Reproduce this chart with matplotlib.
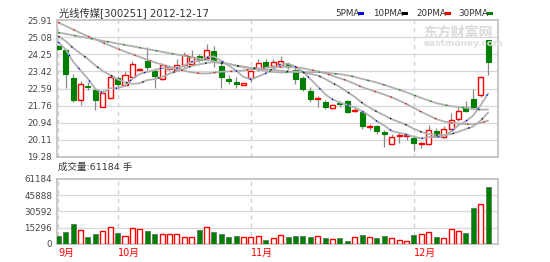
import matplotlib
matplotlib.use("Agg")
import matplotlib.pyplot as plt
from matplotlib.patches import Rectangle

# daily candles, 2012-09-18 .. 2012-12-17
opens = [24.66, 24.47, 23.10, 22.04, 22.72, 22.52, 21.71, 22.12, 23.10, 22.75,
         23.15, 23.50, 23.94, 23.45, 23.05, 23.54, 23.47, 23.72, 23.80, 24.16,
         24.08, 24.43, 23.70, 23.06, 22.90, 22.77, 23.10, 23.52, 23.88, 23.70,
         23.67, 23.77, 23.47, 23.10, 22.49, 22.08, 21.93, 21.63, 21.90, 21.97,
         21.51, 21.47, 20.73, 20.77, 20.47, 19.93, 20.30, 20.28, 20.22, 19.90,
         19.92, 20.52, 20.25, 20.64, 21.11, 21.72, 22.08, 22.26, 24.92]
highs = [24.70, 24.52, 23.31, 22.95, 22.90, 22.61, 22.51, 23.29, 23.20, 23.44,
         23.94, 23.60, 24.60, 23.59, 23.83, 23.73, 24.04, 24.37, 24.48, 24.27,
         24.76, 24.65, 23.88, 23.23, 23.15, 22.88, 23.50, 24.00, 24.00, 24.00,
         24.16, 23.90, 23.63, 23.20, 22.66, 22.22, 22.05, 21.86, 22.00, 22.05,
         21.72, 21.55, 20.90, 20.85, 20.60, 20.40, 20.47, 20.40, 20.35, 20.02,
         20.85, 20.70, 20.80, 21.42, 21.76, 22.00, 22.55, 23.18, 24.95]
lows = [24.48, 22.61, 21.95, 21.78, 22.51, 21.55, 21.68, 22.07, 22.66, 22.71,
        23.05, 23.48, 23.39, 22.61, 23.00, 23.49, 23.45, 23.64, 23.73, 23.88,
        24.03, 23.62, 22.63, 22.82, 22.62, 22.75, 22.90, 23.45, 23.62, 23.65,
        23.60, 23.55, 22.82, 22.49, 21.92, 21.72, 21.62, 21.60, 21.72, 21.40,
        21.45, 20.65, 20.60, 20.37, 19.75, 19.90, 19.96, 20.08, 19.55, 19.72,
        19.85, 20.20, 20.20, 20.58, 21.00, 21.45, 21.65, 22.18, 23.24]
closes = [24.52, 23.30, 22.04, 22.80, 22.66, 22.04, 22.40, 23.13, 22.80, 23.25,
          23.78, 23.56, 23.62, 23.21, 23.73, 23.63, 23.72, 24.23, 24.13, 23.99,
          24.44, 23.98, 23.13, 22.95, 22.82, 22.85, 23.45, 23.82, 23.70, 23.90,
          23.93, 23.64, 23.06, 22.57, 22.08, 22.15, 21.72, 21.82, 21.83, 21.46,
          21.56, 20.77, 20.76, 20.52, 20.39, 20.25, 20.35, 20.36, 19.95, 19.97,
          20.60, 20.30, 20.64, 21.05, 21.52, 21.53, 21.72, 23.13, 23.87]
volumes = [7600, 11400, 18400, 13000, 6700, 8900, 12000, 15500, 9800, 7600,
           14600, 13600, 12000, 8900, 8900, 8900, 8900, 6700, 6000, 13300,
           15500, 11400, 9500, 6000, 7600, 6700, 6700, 7600, 3800, 5700,
           8200, 6700, 7600, 7600, 6700, 7600, 5700, 4400, 5700, 2900,
           6700, 8200, 6700, 5100, 7600, 5700, 3500, 2200, 8200, 9200,
           10800, 6700, 5700, 13900, 12000, 10500, 33600, 38000, 53600]

# moving averages as shown on the chart
ma5 = [24.84, 24.48, 23.89, 23.47, 23.06, 22.57, 22.39, 22.61, 22.61, 22.72,
       23.07, 23.30, 23.40, 23.48, 23.58, 23.55, 23.58, 23.70, 23.89, 23.94,
       24.10, 24.15, 23.93, 23.70, 23.46, 23.15, 23.04, 23.18, 23.33, 23.54,
       23.76, 23.80, 23.65, 23.42, 23.06, 22.70, 22.32, 22.07, 21.92, 21.80,
       21.68, 21.49, 21.28, 21.01, 20.80, 20.54, 20.45, 20.37, 20.26, 20.18,
       20.25, 20.24, 20.29, 20.51, 20.82, 21.01, 21.29, 21.79, 22.35]
ma10 = [25.12, 24.89, 24.55, 24.29, 24.02, 23.71, 23.44, 23.25, 23.04, 22.89,
        22.82, 22.85, 23.00, 23.05, 23.15, 23.31, 23.44, 23.55, 23.69, 23.76,
        23.83, 23.87, 23.82, 23.79, 23.70, 23.62, 23.60, 23.56, 23.51, 23.50,
        23.45, 23.42, 23.41, 23.37, 23.30, 23.23, 23.06, 22.86, 22.67, 22.43,
        22.19, 21.90, 21.67, 21.47, 21.30, 21.11, 20.97, 20.83, 20.64, 20.49,
        20.39, 20.35, 20.33, 20.39, 20.50, 20.63, 20.76, 21.04, 21.43]
ma20 = [25.79, 25.62, 25.45, 25.28, 25.12, 24.97, 24.82, 24.67, 24.52, 24.38,
        24.25, 24.12, 23.99, 23.86, 23.75, 23.64, 23.54, 23.45, 23.38, 23.33,
        23.32, 23.36, 23.41, 23.42, 23.43, 23.47, 23.52, 23.55, 23.60, 23.63,
        23.64, 23.64, 23.62, 23.58, 23.50, 23.43, 23.33, 23.21, 23.09, 22.97,
        22.82, 22.66, 22.54, 22.42, 22.30, 22.17, 22.01, 21.84, 21.65, 21.46,
        21.29, 21.12, 21.00, 20.93, 20.90, 20.87, 20.87, 20.93, 21.04]
ma30 = [25.30, 25.24, 25.17, 25.10, 25.04, 24.97, 24.90, 24.84, 24.77, 24.70,
        24.64, 24.57, 24.50, 24.44, 24.37, 24.30, 24.24, 24.17, 24.11, 24.04,
        23.98, 23.91, 23.84, 23.78, 23.71, 23.65, 23.58, 23.51, 23.45, 23.39,
        23.37, 23.38, 23.41, 23.40, 23.38, 23.39, 23.37, 23.32, 23.29, 23.23,
        23.16, 23.06, 22.97, 22.88, 22.77, 22.65, 22.54, 22.41, 22.27, 22.14,
        22.01, 21.89, 21.81, 21.74, 21.70, 21.66, 21.60, 21.57, 21.58]

month_starts = [0, 8, 26, 48]
month_labels = ["9月", "10月", "11月", "12月"]
price_ticks = [19.28, 20.11, 20.94, 21.76, 22.59, 23.42, 24.25, 25.08, 25.91]
vol_ticks = [0, 15296, 30592, 45888, 61184]

UP = "#ff0000"
DOWN = "#008000"
GRID = "#d8d8d8"
FRAME = "#c4c4c4"
TXT = "#444444"
FONTS = ["DejaVu Sans", "Noto Sans CJK SC"]
plt.rcParams["font.family"] = FONTS

W, H = 550, 262
fig = plt.figure(figsize=(W / 100, H / 100), dpi=100)
fig.patch.set_facecolor("white")


def fx(px):
    return px / W


def fy(py):
    return 1 - py / H


ax = fig.add_axes([fx(57), fy(157), (498 - 57) / W, (157 - 20) / H])
axv = fig.add_axes([fx(57), fy(243.7), (498 - 57) / W, (243.7 - 179) / H])

n = len(closes)
bw = 0.68

# candles
for i in range(n):
    o, h, l, c = opens[i], highs[i], lows[i], closes[i]
    up = c >= o
    ax.vlines(i, l, h, color="#8a8a8a", lw=0.9, zorder=2)
    lo, hi = min(o, c), max(o, c)
    if hi - lo < 0.03:
        ax.hlines(c, i - bw / 2, i + bw / 2, color=UP if up else DOWN, lw=1.4, zorder=3)
    elif up:
        ax.add_patch(Rectangle((i - bw / 2, lo), bw, hi - lo, facecolor="white",
                               edgecolor=UP, lw=1.0, zorder=3))
    else:
        ax.add_patch(Rectangle((i - bw / 2, lo), bw, hi - lo, facecolor=DOWN,
                               edgecolor=DOWN, lw=0.8, zorder=3))

# moving averages: grey line with sparse coloured dashes
x = list(range(n))
for vals, col in [(ma30, "#008000"), (ma20, "#ff0000"), (ma10, "#000000"), (ma5, "#0000ff")]:
    ax.plot(x, vals, color="#b0b0b0", lw=1.3, zorder=4, solid_capstyle="round")
    ax.plot(x, vals, color=col, lw=0.9, zorder=5, linestyle=(0, (1.2, 12)))

# volume bars
for i in range(n):
    up = closes[i] >= opens[i]
    if up:
        axv.bar(i, volumes[i], width=bw, facecolor="white", edgecolor=UP, lw=1.0, zorder=3)
    else:
        axv.bar(i, volumes[i], width=bw, facecolor=DOWN, edgecolor="#5a7a5a", lw=0.6, zorder=3)

for a in (ax, axv):
    a.set_xlim(-0.18, 59.34)
    for s in a.spines.values():
        s.set_color(FRAME)
        s.set_linewidth(1.3)
    for m in month_starts:
        a.axvline(m, color="#d0d0d0", lw=1.0, linestyle=(0, (3, 3)), zorder=1)
    a.tick_params(length=0, colors=TXT, labelsize=6.3, pad=3.5)

ax.set_ylim(price_ticks[0], price_ticks[-1])
ax.set_yticks(price_ticks)
ax.set_yticklabels([f"{t:.2f}" for t in price_ticks])
for t in price_ticks[1:-1]:
    ax.axhline(t, color=GRID, lw=0.9, zorder=1)
ax.set_xticks([])

axv.set_ylim(0, vol_ticks[-1])
axv.set_yticks(vol_ticks)
axv.set_yticklabels([str(t) for t in vol_ticks])
for t in vol_ticks[1:-1]:
    axv.axhline(t, color=GRID, lw=0.9, zorder=1)
axv.set_xticks(month_starts)
axv.set_xticklabels(month_labels, color="#ff0000", fontsize=7, ha="left")
axv.tick_params(axis="x", pad=3)

# header texts
fig.text(fx(59), fy(12.5), "光线传媒[300251] 2012-12-17", fontsize=7.4,
         color="#333333", va="center", ha="left")
fig.text(fx(58), fy(167), "成交量:61184 手", fontsize=6.8,
         color="#333333", va="center", ha="left")

legend_items = [("5PMA", "#0000ff", 335), ("10PMA", "#000000", 373),
                ("20PMA", "#ff0000", 416), ("30PMA", "#008000", 458)]
for label, col, px in legend_items:
    fig.text(fx(px), fy(13.3), label, fontsize=6.3, color="#333333",
             va="center", ha="left")
    lw_px = len(label) * 5.6
    fig.patches.append(Rectangle((fx(px + lw_px + 0.5), fy(14.6)), 6 / W, 2.6 / H,
                                 transform=fig.transFigure, facecolor=col,
                                 edgecolor="none"))

# watermark
fig.text(fx(423), fy(33), "东方财富网", fontsize=10, color="#dadada",
         fontweight="bold", va="center", ha="left",
         family=["Noto Sans CJK SC", "DejaVu Sans"])
fig.text(fx(424), fy(43.5), "eastmoney.com", fontsize=6.5, color="#dedede",
         fontweight="bold", va="center", ha="left")

fig.savefig("out.png", dpi=100, facecolor="white")
